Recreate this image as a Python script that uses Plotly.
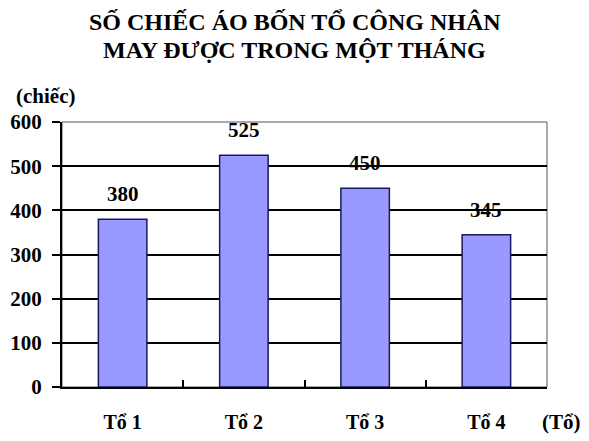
import plotly.graph_objects as go

categories = ["Tổ 1", "Tổ 2", "Tổ 3", "Tổ 4"]
so_chiec = [380, 525, 450, 345]
y_ticks = [0, 100, 200, 300, 400, 500, 600]
title_lines = ["SỐ CHIẾC ÁO BỐN TỔ CÔNG NHÂN", "MAY ĐƯỢC TRONG MỘT THÁNG"]

font_serif = "Liberation Serif"

fig = go.Figure(go.Bar(
    x=categories, y=so_chiec, width=0.4,
    marker=dict(color="#9999ff", line=dict(color="#1a1a5a", width=1.5)),
))

# value labels float a bit above each bar
for c, v in zip(categories, so_chiec):
    fig.add_annotation(x=c, y=v, text=str(v), showarrow=False, yshift=25,
                       font=dict(family=font_serif, size=21, color="black"))

# title as two lines, tighter spacing than plotly's <br>
for line, ty in zip(title_lines, [1.377, 1.272]):
    fig.add_annotation(x=0.48, xref="paper", y=ty, yref="paper", text=line,
                       showarrow=False, xanchor="center", yanchor="middle",
                       font=dict(family=font_serif, size=24, color="black"))

fig.add_annotation(x=-0.098, xref="paper", y=1.097, yref="paper", text="(chiếc)",
                   showarrow=False, xanchor="left", yanchor="middle",
                   font=dict(family=font_serif, size=21, color="black"))
fig.add_annotation(x=1.029, xref="paper", y=-0.132, yref="paper", text="(Tổ)",
                   showarrow=False, xanchor="center", yanchor="middle",
                   font=dict(family=font_serif, size=21, color="black"))

# page body has an 8px margin, so the margins are trimmed by 8px
fig.update_layout(
    width=589, height=441,
    margin=dict(l=54, r=50, t=114, b=62),
    paper_bgcolor="white", plot_bgcolor="white",
    showlegend=False,
    xaxis=dict(showline=True, linecolor="black", linewidth=2, mirror=False,
               ticks="inside", ticklen=7, tickcolor="black", tickwidth=1.5,
               tickson="boundaries", ticklabelstandoff=16, automargin=False,
               tickfont=dict(family=font_serif, size=20, color="black"),
               showgrid=False),
    yaxis=dict(range=[0, 600], tickvals=y_ticks, showline=True, linecolor="black",
               linewidth=2, ticks="outside", ticklen=8, tickcolor="black",
               tickwidth=1.5, showgrid=True, gridcolor="black", gridwidth=2,
               zeroline=False, ticklabelstandoff=6, automargin=False,
               tickfont=dict(family=font_serif, size=21, color="black")),
)

# thin grey frame on the top and right
fig.add_shape(type="rect", xref="paper", yref="paper", x0=0, y0=0, x1=1, y1=1,
              line=dict(color="#555555", width=1), layer="below")

fig.update_xaxes(tickfont_weight="bold")
fig.update_yaxes(tickfont_weight="bold")
for a in fig.layout.annotations:
    a.font.weight = "bold"

fig.write_html("out.html")
